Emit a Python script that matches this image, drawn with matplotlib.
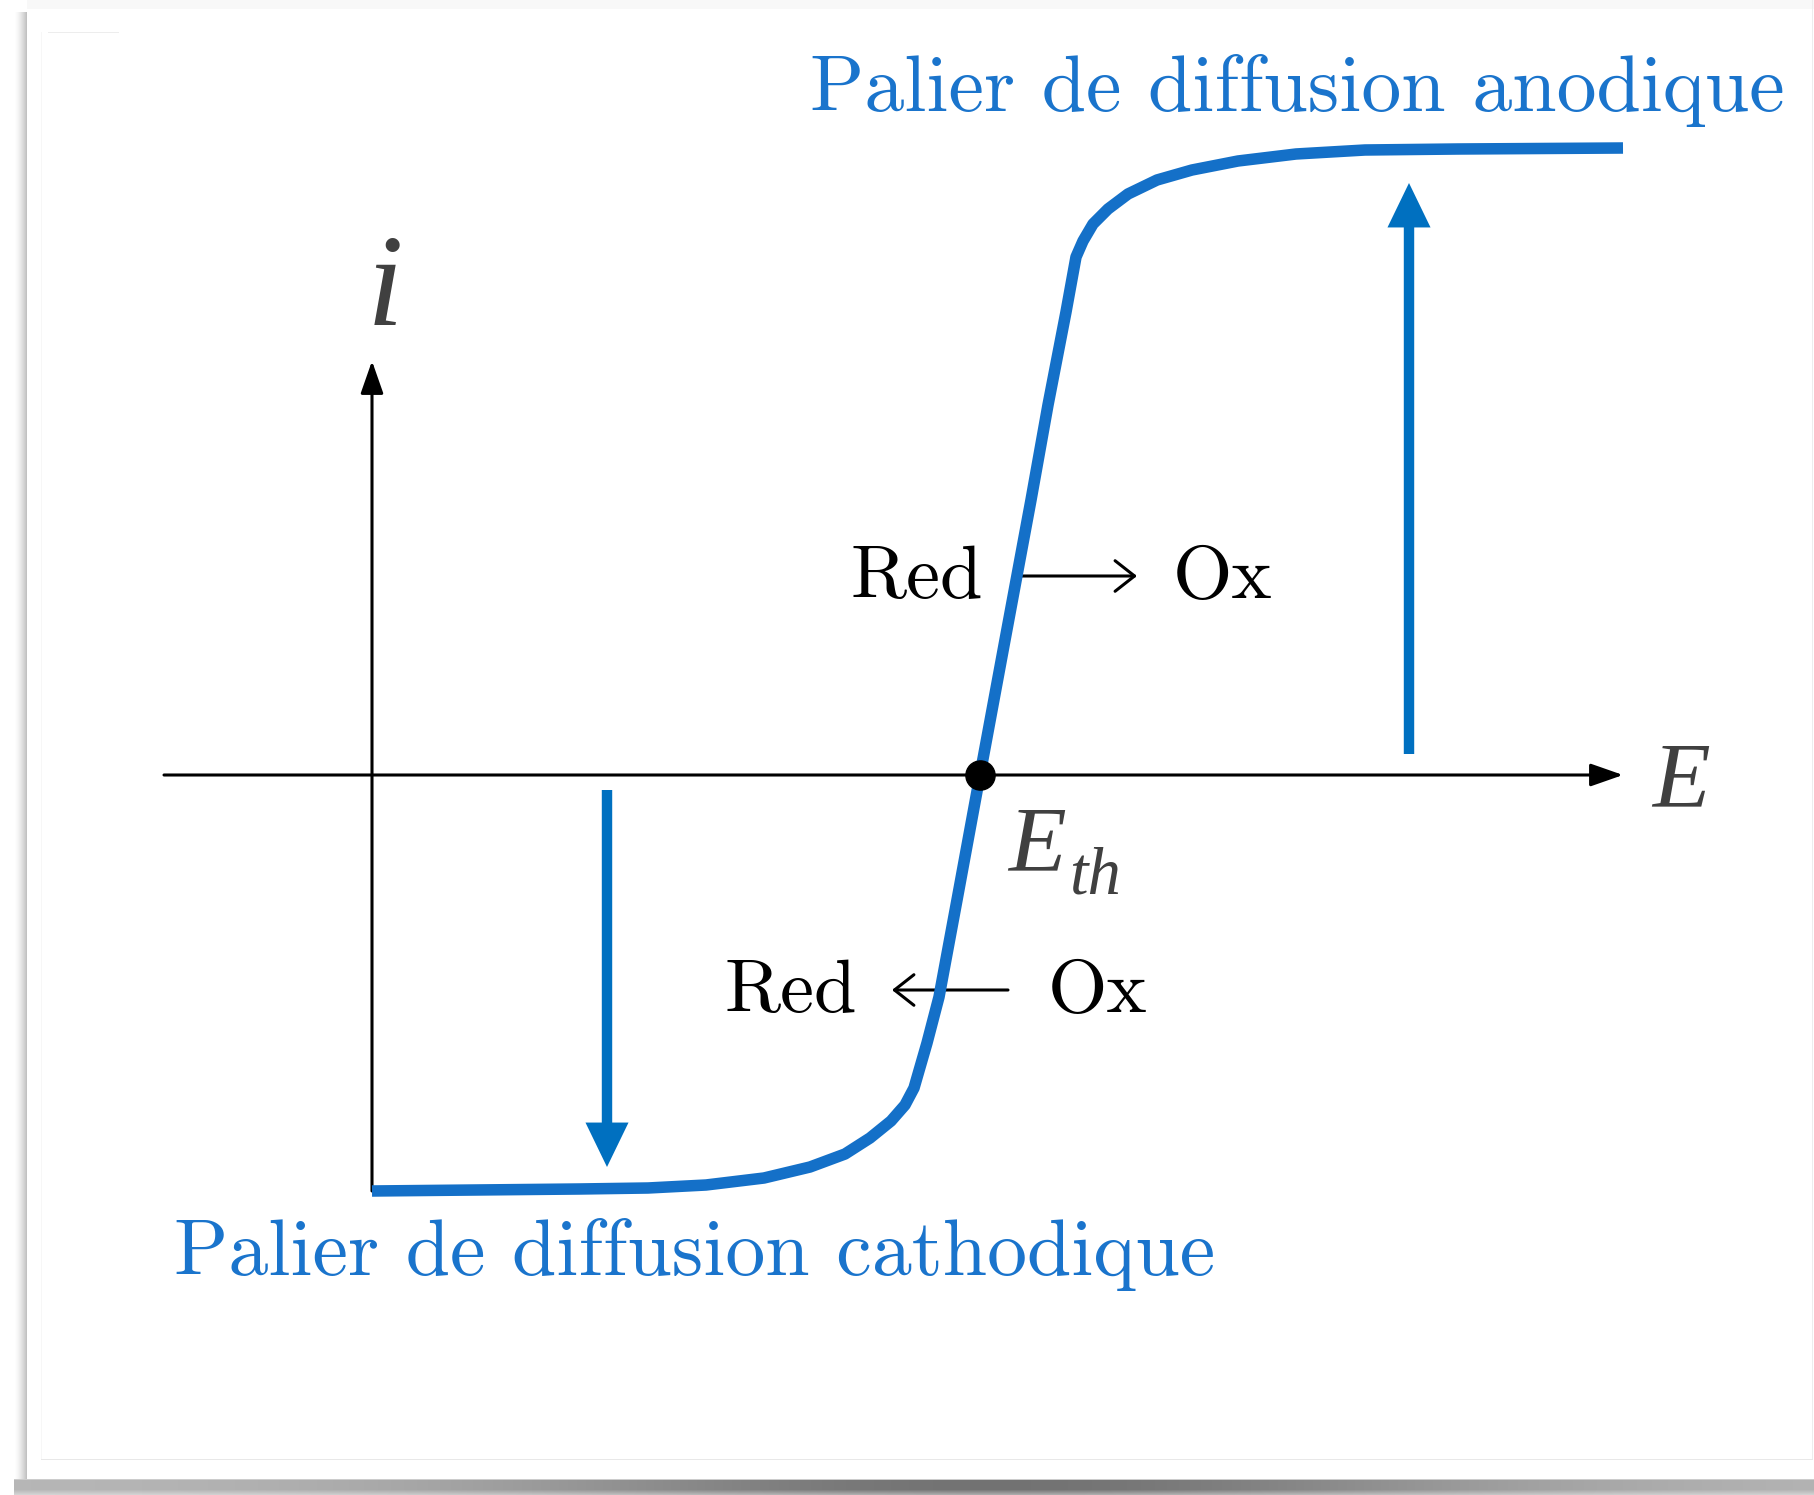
"""Courbe intensité-potentiel d'un couple Ox/Red avec paliers de diffusion."""

import numpy as np
import matplotlib.pyplot as plt
from matplotlib.patches import FancyArrowPatch

W, H = 1814, 1495
BLUE = "#1470c8"
ARROW_BLUE = "#0070c0"
TEXT_BLUE = "#1a74cc"
GREY = "#404040"

# i(E) curve, potential E and current i in arbitrary units (origin at axes crossing)
curve_E = [0.00, 2.07, 2.76, 3.34, 3.92, 4.38, 4.73, 4.98, 5.19, 5.33, 5.42,
           5.55, 5.67, 5.85, 6.08, 6.33, 6.59, 6.76, 6.94, 7.04,
           7.11, 7.21, 7.36, 7.56, 7.85, 8.20, 8.66, 9.24, 9.93, 10.86, 12.51]
curve_i = [-4.16, -4.14, -4.13, -4.10, -4.03, -3.92, -3.79, -3.63, -3.46, -3.30, -3.13,
           -2.68, -2.22, -1.25, 0.00, 1.35, 2.75, 3.70, 4.63, 5.18,
           5.34, 5.51, 5.66, 5.81, 5.95, 6.05, 6.14, 6.21, 6.25, 6.26, 6.27]

E_th = 6.08

# axes extent
E_axis = (-2.08, 12.51)
i_axis = (-4.16, 4.14)

# limiting-current arrows (E position, start, end)
anodic_arrow = (10.37, 0.21, 5.92)
cathodic_arrow = (2.35, -0.15, -3.92)


# paper background with a drop shadow
bg = np.ones((H, W))
bg[:9, 27:] = 0.975
xs = np.arange(W)
band = 0.72 - 0.27 * np.exp(-((xs - 1000) / 500.0) ** 2)
for k, y in enumerate(range(1479, H)):
    fade = 1.0 if k < 11 else 1.0 - 0.08 * (k - 10)
    bg[y, 14:] = 1 - (1 - band[14:]) * fade
bg[1479, 14:] = 0.8
for x in range(14, 27):
    t = (x - 14) / 12.0
    bg[12:1479, x] = 1 - 0.24 * t ** 1.5
bg[1459, 41:1813] = 0.91
bg[32:1459, 41] = 0.97
bg[:1459, 1812] = 0.93
bg[32, 48:119] = 0.93

fig = plt.figure(figsize=(W / 100, H / 100), dpi=100)
bg_ax = fig.add_axes([0, 0, 1, 1])
bg_ax.imshow(np.dstack([bg] * 3), aspect="auto", extent=(0, W, H, 0), interpolation="bilinear")
bg_ax.axis("off")

ax = fig.add_axes([0, 0, 1, 1])
ax.set_facecolor("none")
ax.set_xlim(-3.72, 14.42)
ax.set_ylim(-7.20, 7.75)
ax.axis("off")

# coordinate axes
for start, end in [((E_axis[0], 0), (E_axis[1], 0)), ((0, i_axis[0]), (0, i_axis[1]))]:
    ax.add_patch(FancyArrowPatch(start, end, arrowstyle="-|>,head_length=20,head_width=7",
                                 mutation_scale=1, color="black", lw=2.2,
                                 shrinkA=0, shrinkB=0, zorder=2))

# i(E) curve
ax.plot(curve_E, curve_i, color=BLUE, lw=8.3, solid_joinstyle="round",
        solid_capstyle="butt", zorder=3)
ax.plot([E_th], [0], "o", color="black", ms=21, zorder=4)

# limiting-current arrows
for x, y0, y1 in [anodic_arrow, cathodic_arrow]:
    ax.add_patch(FancyArrowPatch((x, y0), (x, y1),
                                 arrowstyle="simple,head_length=32,head_width=31,tail_width=7.5",
                                 mutation_scale=1, color=ARROW_BLUE, lw=0,
                                 shrinkA=0, shrinkB=0, zorder=3))

# reaction arrows
cm = dict(family="cmr10", size=55, color="black", va="baseline")
ax.text(6.11, 1.77, "Red", ha="right", **cm)
ax.text(8.01, 1.77, "Ox", ha="left", **cm)
ax.add_patch(FancyArrowPatch((6.48, 1.99), (7.65, 1.99),
                             arrowstyle="->,head_length=14,head_width=11",
                             mutation_scale=1, color="black", lw=2.2,
                             shrinkA=0, shrinkB=0, zorder=2))
ax.text(4.85, -2.37, "Red", ha="right", **cm)
ax.text(6.76, -2.37, "Ox", ha="left", **cm)
ax.add_patch(FancyArrowPatch((6.36, -2.15), (5.20, -2.15),
                             arrowstyle="->,head_length=14,head_width=11",
                             mutation_scale=1, color="black", lw=2.2,
                             shrinkA=0, shrinkB=0, zorder=2))

# axis names
it = dict(family="Liberation Serif", style="italic", color=GREY, va="baseline", ha="left")
ax.text(-0.05, 4.50, "i", size=95, **it)
ax.text(12.80, -0.31, "E", size=68, **it)
ax.text(6.36, -0.95, "E", size=68, **it)
ax.text(6.97, -1.18, "th", size=48, **it)

# limiting-current labels
ax.text(4.38, 6.64, "Palier de diffusion anodique", family="cmr10", size=57.5,
        color=TEXT_BLUE, ha="left", va="baseline")
ax.text(-1.98, -5.00, "Palier de diffusion cathodique", family="cmr10", size=57.5,
        color=TEXT_BLUE, ha="left", va="baseline")

fig.savefig("out.png", dpi=100)
